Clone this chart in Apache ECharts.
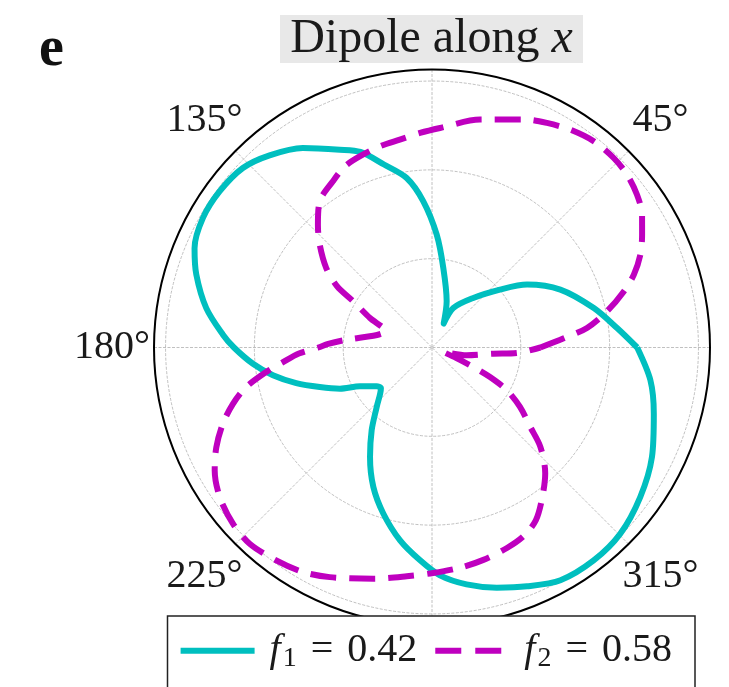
<!DOCTYPE html>
<html>
<head>
<meta charset="utf-8">
<script src="https://cdn.jsdelivr.net/npm/echarts@6/dist/echarts.min.js"></script>
<style>
  html, body { margin: 0; padding: 0; background: #fff; }
  #chart { width: 729px; height: 687px; }
</style>
</head>
<body>
<div id="chart"></div>
<script>
const SERIF = '"Liberation Serif", "DejaVu Serif", serif';
const INK = '#1a1a1a';

// Angular tick labels (degrees) that are printed around the rim
const angleTickLabels = [45, 135, 180, 225, 315];

// Emission pattern for f1 = 0.42: polar angle (deg) and radial intensity
const f1Angles = [0, 6, 13.7, 24.3, 33.5, 40.4, 50.2, 61.7, 64, 72.4,
  81.9, 87.6, 93.4, 98.5, 104.7, 110.1, 115, 122.9, 130.2, 136.5,
  143.7, 150.5, 157.3, 162.8, 170.1, 176.5, 180, 185.2, 189.9, 194.7,
  199.4, 204.1, 208.3, 215.1, 218.5, 227.1, 233.9, 240.5, 247.2, 253.7,
  260.6, 266.8, 272, 278.3, 285.1, 291.7, 298.9, 307.2, 315.3, 324.3,
  333.5, 343.4, 351.5, 360];
const f1Radii = [2.31, 2.095, 1.875, 1.585, 1.283, 1.005, 0.726, 0.505, 0.30, 0.546,
  0.904, 1.271, 1.649, 1.93, 2.13, 2.345, 2.458, 2.676, 2.833, 2.936,
  2.968, 2.963, 2.898, 2.778, 2.58, 2.358, 2.23, 2.024, 1.818, 1.58,
  1.34, 1.135, 0.921, 0.761, 0.735, 0.915, 1.153, 1.417, 1.704, 1.95,
  2.201, 2.40, 2.567, 2.695, 2.801, 2.894, 2.993, 3.01, 2.982, 2.887,
  2.767, 2.606, 2.486, 2.31];

// Emission pattern for f2 = 0.58
const f2Angles = [0, 4, 7.2, 11.7, 16.3, 19.8, 24, 28.2, 32.3, 36.7,
  41.5, 46.2, 51.9, 57.6, 62.9, 67.4, 70.4, 78.1, 87.9, 93.2,
  98.8, 104.5, 110.6, 115.6, 120.8, 127.5, 132.9, 137.5, 143.1, 147.2,
  149.6, 154.6, 161, 164.4, 167.2, 170.3, 174.8, 178, 180, 182.6,
  185.5, 188.4, 192, 195.8, 200, 204.8, 209.5, 215.2, 221.5, 227.1,
  233.8, 240.1, 246, 255.8, 263.7, 270.3, 277.2, 283.6, 290.5, 296,
  301, 306.5, 312, 317.5, 321.1, 326, 330.3, 333, 334.7, 336.5,
  338.5, 347.3, 354.2, 356.3, 360];
const f2Radii = [1.22, 1.487, 1.759, 2.012, 2.25, 2.415, 2.568, 2.684, 2.798, 2.879,
  2.934, 2.956, 2.951, 2.905, 2.84, 2.779, 2.724, 2.622, 2.473, 2.419,
  2.368, 2.34, 2.301, 2.264, 2.179, 2.076, 1.887, 1.715, 1.489, 1.27,
  1.03, 0.773, 0.55, 0.585, 0.635, 0.73, 0.965, 1.17, 1.28, 1.50,
  1.68, 1.886, 2.138, 2.329, 2.505, 2.675, 2.811, 2.924, 2.993, 3.016,
  2.97, 2.916, 2.83, 2.686, 2.592, 2.539, 2.50, 2.46, 2.41, 2.36,
  2.27, 2.09, 1.905, 1.655, 1.42, 1.195, 0.97, 0.733, 0.514, 0.30,
  0.13, 0.40, 0.694, 0.956, 1.22];

// Legend entries: subscript index and fraction value
const seriesNames = ['f1 = 0.42', 'f2 = 0.58'];
const legendSubs = ['1', '2'];
const legendValues = ['0.42', '0.58'];

const toPolar = (angles, radii) => angles.map((a, i) => [radii[i], a]);

// per-label nudges so each rim label sits centred on its spoke
// (vertical padding acts at half strength because lineHeight is fixed)
const labelPad = {
  45: [0, 0, 35, 11],
  135: [0, 0, 35, 0],
  180: [0, 14, 0, 0],
  225: [38, 0, 0, 0],
  315: [38, 0, 0, 1]
};
const angleRich = {};
angleTickLabels.forEach(v => {
  angleRich['a' + v] = {
    fontFamily: SERIF, fontSize: 40, lineHeight: 40, color: INK,
    padding: labelPad[v]
  };
});

const legendTok = { fontFamily: SERIF, fontSize: 40, lineHeight: 44, color: INK, fontWeight: 'normal' };
const titleTok = { fontFamily: SERIF, fontSize: 48, lineHeight: 48, color: INK, fontWeight: 'normal' };

const gridLine = { color: '#b0b0b0', width: 0.8, type: [3, 1.5] };

// legend handles: a solid bar and a two-dash bar of the same length
const solidHandle = 'rect';
const dashedHandle = 'path://M0,0H26V6H0Z M40,0H66V6H40Z M74,6';

const chart = echarts.init(document.getElementById('chart'), null, { renderer: 'canvas' });

chart.setOption({
  animation: false,
  backgroundColor: '#fff',
  title: [
    {
      text: '{a|Dipole along }{b|x}',
      left: 431.5, top: 15, textAlign: 'center', padding: 0,
      textStyle: {
        fontWeight: 'normal',
        rich: {
          a: titleTok,
          b: Object.assign({}, titleTok, { fontStyle: 'italic' })
        }
      }
    },
    {
      text: 'e', left: 39, top: 23, padding: 0,
      textStyle: { fontFamily: SERIF, fontSize: 56, lineHeight: 56, fontWeight: 'bold', color: '#111' }
    }
  ],
  graphic: [
    {
      type: 'rect', z: 1, silent: true,
      shape: { x: 280, y: 15, width: 303, height: 48 },
      style: { fill: '#e8e8e8' }
    },
    {
      type: 'rect', z: 50, silent: true,
      shape: { x: 167.5, y: 616, width: 527.5, height: 90 },
      style: { fill: '#fff', stroke: '#222', lineWidth: 1.5 }
    }
  ],
  polar: { center: [432, 347.5], radius: 278 },
  angleAxis: {
    type: 'value', min: 0, max: 360, interval: 45,
    startAngle: 0, clockwise: false,
    axisLine: { lineStyle: { color: '#000', width: 2 } },
    axisTick: { show: false },
    axisLabel: {
      margin: -10,
      formatter: v => angleTickLabels.includes(v) ? '{a' + v + '|' + v + '°}' : '',
      rich: angleRich
    },
    splitLine: { show: true, lineStyle: gridLine }
  },
  radiusAxis: {
    type: 'value', min: 0, max: 3.13, interval: 1,
    axisLine: { show: false },
    axisTick: { show: false },
    axisLabel: { show: false },
    splitLine: { show: true, lineStyle: gridLine }
  },
  legend: {
    z: 60,
    left: 180.6, top: 628.7, padding: 0,
    itemWidth: 74, itemHeight: 6, itemGap: 18,
    data: [
      { name: seriesNames[0], icon: solidHandle },
      { name: seriesNames[1], icon: dashedHandle }
    ],
    formatter: name => {
      const i = seriesNames.indexOf(name);
      return '{f|f}{s|' + legendSubs[i] + '}{e|=}{n|' + legendValues[i] + '}';
    },
    textStyle: {
      fontWeight: 'normal',
      rich: {
        f: Object.assign({}, legendTok, { fontStyle: 'italic', padding: [0, 1, 0, 10] }),
        s: { fontFamily: SERIF, fontSize: 28, lineHeight: 28, color: INK, padding: [16, 0, 0, 1] },
        e: Object.assign({}, legendTok, { padding: [0, 14, 0, 14] }),
        n: legendTok
      }
    }
  },
  series: [
    {
      name: seriesNames[0], type: 'line', coordinateSystem: 'polar',
      data: toPolar(f1Angles, f1Radii),
      symbol: 'none', showSymbol: false, smooth: 0.3,
      color: '#00bfbf',
      lineStyle: { color: '#00bfbf', width: 6, cap: 'butt', join: 'round' }
    },
    {
      name: seriesNames[1], type: 'line', coordinateSystem: 'polar',
      data: toPolar(f2Angles, f2Radii),
      symbol: 'none', showSymbol: false, smooth: 0.3,
      color: '#bf00bf',
      lineStyle: { color: '#bf00bf', width: 6, type: [26, 13], cap: 'butt', join: 'round' }
    }
  ]
});
</script>
</body>
</html>
